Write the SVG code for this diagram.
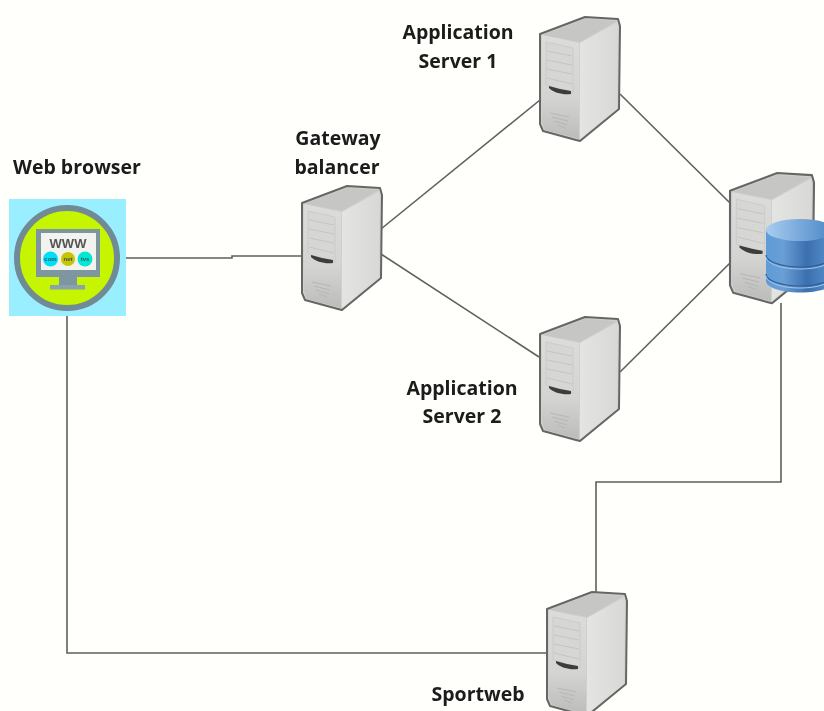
<svg xmlns="http://www.w3.org/2000/svg" xmlns:xlink="http://www.w3.org/1999/xlink" width="824" height="711" viewBox="0 0 824 711">
<style>
.lbl{font-family:"Open Sans","Liberation Sans",sans-serif;font-size:19.500px;font-weight:700;fill:#1a1a1a;text-anchor:middle}
.conn{fill:none;stroke:#5f5f5f;stroke-width:1.6}
.tiny{font-family:"Liberation Sans",sans-serif;font-size:6px;font-weight:700;fill:#2f5560;text-anchor:middle}
</style>
<defs>
<filter id="soft" x="-5%" y="-5%" width="110%" height="110%"><feGaussianBlur stdDeviation="0.7"/></filter>
<filter id="softer" x="-5%" y="-5%" width="110%" height="110%"><feGaussianBlur stdDeviation="0.35"/></filter>
<linearGradient id="front" x1="0" y1="0" x2="0" y2="1"><stop offset="0" stop-color="#dcdcda"/><stop offset="0.6" stop-color="#d4d4d2"/><stop offset="1" stop-color="#bcbcba"/></linearGradient>
<linearGradient id="side" x1="0" y1="0" x2="1" y2="0"><stop offset="0" stop-color="#e4e4e2"/><stop offset="1" stop-color="#d8d8d6"/></linearGradient>
<linearGradient id="tier" x1="0" y1="0" x2="1" y2="0"><stop offset="0" stop-color="#5f9bd8"/><stop offset="0.25" stop-color="#6a9fd6"/><stop offset="0.6" stop-color="#3b6fae"/><stop offset="1" stop-color="#5a94cf"/></linearGradient>
<linearGradient id="dbtop" x1="0" y1="0" x2="1" y2="0"><stop offset="0" stop-color="#a8cdf0"/><stop offset="1" stop-color="#4a86c5"/></linearGradient>
<g id="server">
<path d="M0 17L45 0L78 2L80 9L79 92L40 124L36 123L3 114L0 107Z" fill="#d0d0ce" stroke="#666" stroke-width="2" stroke-linejoin="round"/>
<path d="M2 18L45 2L77 4L40 25Z" fill="#c6c6c4"/>
<path d="M40 26L78 5L77 92L40 122Z" fill="url(#side)"/>
<path d="M2 18L39 26L39 122L5 113L2 105Z" fill="url(#front)"/>
<path d="M6 25L33 31L33 76L6 68Z" fill="#d6d6d4" stroke="#c8c8c6" stroke-width="0.8"/>
<path d="M7 34L32 39M7 43L32 48M7 52L32 57M7 61L32 67" stroke="#bdbdbb" stroke-width="0.7" fill="none"/>
<path d="M9 69C16 71 24 73 31 74L31 77C23 78 14 76 9 71Z" fill="#3e3e3e"/>
<path d="M10 96L29 100M12 100L28 104M14 104L27 108M17 108L25 111" stroke="#b4b4b2" stroke-width="0.9" fill="none"/>
</g>
</defs>
<rect width="824" height="711" fill="#fffffb"/>
<g id="connectors">
<path class="conn" d="M126 258H232V256H302"/>
<path class="conn" d="M381 229L540 100"/>
<path class="conn" d="M381 254L539 357"/>
<path class="conn" d="M620 94L730 203"/>
<path class="conn" d="M620 372L730 263"/>
<path class="conn" d="M781 303V482H596V592"/>
<path class="conn" d="M67 316V653H547"/>
</g>
<g id="web-browser">
<g filter="url(#softer)">
<rect x="9" y="199" width="117" height="117" fill="#99eeff"/>
<circle cx="67" cy="258" r="50" fill="#c6f500" stroke="#6f8a96" stroke-width="6"/>
<rect x="36" y="229" width="64" height="48" fill="#7d96a2"/>
<rect x="41" y="233" width="55" height="37" fill="#f2f2ee"/>
<rect x="59" y="277" width="18" height="8" fill="#7d96a2"/>
<rect x="50" y="285" width="35" height="4.500" fill="#8aa2ad"/>
<text x="68" y="248" font-family="Liberation Sans, sans-serif" font-size="13" font-weight="700" fill="#555" text-anchor="middle">WWW</text>
<circle cx="50.500" cy="259" r="7.500" fill="#00dff5"/>
<circle cx="68" cy="259" r="7" fill="#c9c400"/>
<circle cx="85" cy="259" r="7.500" fill="#00e8d4"/>
<text class="tiny" x="50.500" y="261">com</text>
<text class="tiny" x="68" y="261">net</text>
<text class="tiny" x="85" y="261">tvs</text>
</g>
<text class="lbl" x="77" y="174" filter="url(#softer)">Web browser</text>
</g>
<g id="gateway-balancer">
<use xlink:href="#server" href="#server" transform="translate(302 186)" filter="url(#soft)"/>
<text class="lbl" x="338" y="145" filter="url(#softer)">Gateway</text>
<text class="lbl" x="337" y="174" filter="url(#softer)">balancer</text>
</g>
<g id="application-server-1">
<use xlink:href="#server" href="#server" transform="translate(540 17)" filter="url(#soft)"/>
<text class="lbl" x="458" y="39" filter="url(#softer)">Application</text>
<text class="lbl" x="458" y="68" filter="url(#softer)">Server 1</text>
</g>
<g id="application-server-2">
<use xlink:href="#server" href="#server" transform="translate(540 317)" filter="url(#soft)"/>
<text class="lbl" x="462" y="395" filter="url(#softer)">Application</text>
<text class="lbl" x="462" y="423" filter="url(#softer)">Server 2</text>
</g>
<g id="database-server">
<use xlink:href="#server" href="#server" transform="translate(730 173) scale(1.05)" filter="url(#soft)"/>
<g filter="url(#softer)">
<path d="M766 230V281C766 287 780 292.500 800 292.500S834 287 834 281V230Z" fill="url(#tier)"/>
<path d="M766 255C766 261 780 267 800 267S834 261 834 255M766 274C766 280 780 286 800 286S834 280 834 274" fill="none" stroke="#2f5f9a" stroke-width="1.200"/>
<path d="M766 257C766 263 780 269 800 269S834 263 834 257M766 276C766 282 780 288 800 288S834 282 834 276" fill="none" stroke="#a9c8e8" stroke-width="1"/>
<ellipse cx="800" cy="230" rx="34" ry="11" fill="url(#dbtop)"/>
</g>
</g>
<g id="sportweb">
<use xlink:href="#server" href="#server" transform="translate(547 592)" filter="url(#soft)"/>
<text class="lbl" x="478" y="701" filter="url(#softer)">Sportweb</text>
</g>
</svg>
